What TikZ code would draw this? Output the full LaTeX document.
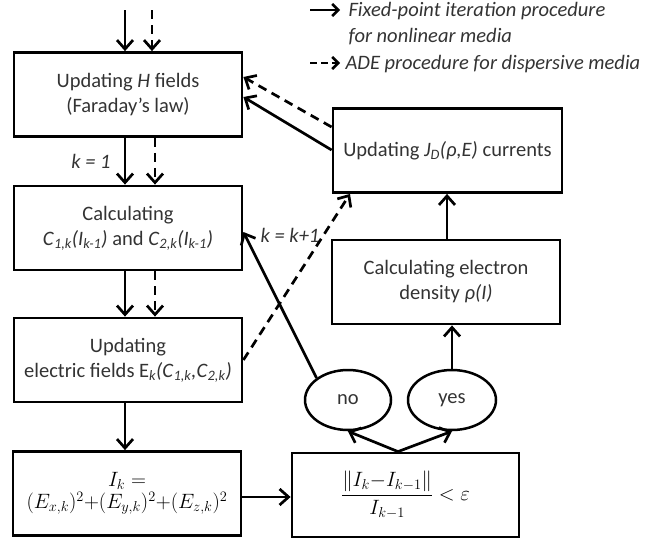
\documentclass[tikz,border=0pt]{standalone}
\usepackage{amsmath}
\usepackage{fontspec}
\setmainfont{Carlito}
\usetikzlibrary{arrows.meta,shapes.geometric,calc}
\definecolor{txt}{HTML}{333333}
\begin{document}
\begin{tikzpicture}[x=1pt,y=-1pt,
  box/.style={draw=black,line width=2.8pt,minimum width=228pt,minimum height=84pt,inner sep=0pt,align=center,text=txt,font=\fontsize{20.5}{25}\selectfont},
  oval/.style={draw=black,line width=2.5pt,ellipse,minimum width=86pt,minimum height=60pt,inner sep=0pt,text=txt,font=\fontsize{20.5}{25}\selectfont},
  arr/.style={line width=2.7pt,-{Straight Barb[length=9pt,width=16pt,line width=2.7pt]}},
  darr/.style={arr,dash pattern=on 9pt off 6pt},
  lbl/.style={text=txt,font=\fontsize{20.5}{25}\selectfont\itshape},
  leg/.style={text=txt,font=\fontsize{20.5}{25}\selectfont\itshape,anchor=west}]
\useasboundingbox (0,0) rectangle (663,541);
\newcommand{\sbi}[1]{\textsubscript{\itshape #1}}
% nodes
\node[box] (H) at (128,94.5) {Updating \textit{H} fields\\(Faraday’s law)};
\node[box] (C) at (128,228) {Calculating\\\textit{C}\sbi{1,k}\textit{(I}\sbi{k-1}\textit{)} and \textit{C}\sbi{2,k}\textit{(I}\sbi{k-1}\textit{)}};
\node[box] (E) at (128,360) {Updating\\electric fields E\sbi{k}\textit{(C}\sbi{1,k}\textit{,C}\sbi{2,k}\textit{)}};
\node[box,font=\fontsize{21.5}{22}\selectfont] (I) at (127,493.5) {\color{black}$I_k=$\\\color{black}$(E_{x,k})^2{+}(E_{y,k})^2{+}(E_{z,k})^2$};
\node[box,minimum width=227pt,font=\fontsize{20}{22}\selectfont] (T) at (405.5,495) {\color{black}$\dfrac{\Vert I_k{-}I_{k-1}\Vert}{I_{k-1}}\mathrel{<}\varepsilon$};
\node[oval] (no) at (348,400) {no};
\node[oval,minimum width=88pt] (yes) at (452,400) {yes};
\node[box] (R) at (446,282) {Calculating electron\\density \textit{ρ(I)}};
\node[box,minimum width=229pt] (J) at (447.5,150.5) {Updating \textit{J}\sbi{D}\textit{(ρ,E)} currents};
% helper coordinates
\coordinate (s) at (125,0);
\coordinate (d1) at (152,0);
\coordinate (d2) at (155,0);
\coordinate (tA) at (125,10);
\coordinate (tB) at (152,10);
% main flow
\draw[arr] (tA) -- (H.north -| s);
\draw[darr] (tB) -- (H.north -| d1);
\draw[arr] (H.south -| s) -- (C.north -| s);
\draw[darr] (H.south -| d2) -- (C.north -| d2);
\draw[arr] (C.south -| s) -- (E.north -| s);
\draw[darr] (C.south -| d2) -- (E.north -| d2);
\draw[arr] (E.south -| s) -- (I.north -| s);
\draw[arr] (I.east |- 0,497) -- (T.west |- 0,497);
\draw[arr] (T.north -| 398,0) -- (no.south);
\draw[arr] (T.north -| 398,0) -- (yes.south);
\draw[arr] (yes.north) -- (R.south -| yes.north);
\draw[arr] (R.north -| 447,0) -- (J.south -| 447,0);
\draw[arr] (J.west |- 0,150) -- (H.east |- 0,97);
\draw[darr] (J.west |- 0,127) -- (H.east |- 0,77);
\draw[arr] (no.145) -- (C.east |- 0,232);
\draw[darr] (E.east |- 0,360) -- (J.south west -| 350,0);
% labels
\node[lbl] at (91,161) {k = 1};
\node[lbl] at (290,235) {k = k+1};
% legend
\coordinate (la1) at (310,10);
\coordinate (la2) at (340,10);
\coordinate (lb1) at (310,63);
\coordinate (lb2) at (340,63);
\draw[line width=2.5pt,-{Straight Barb[length=6pt,width=12pt,line width=2.5pt]}] (la1) -- (la2);
\draw[line width=2.5pt,dash pattern=on 7pt off 4pt,-{Straight Barb[length=6pt,width=12pt,line width=2.5pt]}] (lb1) -- (lb2);
\node[leg] at (345,11) {Fixed-point iteration procedure};
\node[leg] at (345,37) {for nonlinear media};
\node[leg] at (342,64) {ADE procedure for dispersive media};
\end{tikzpicture}
\end{document}
